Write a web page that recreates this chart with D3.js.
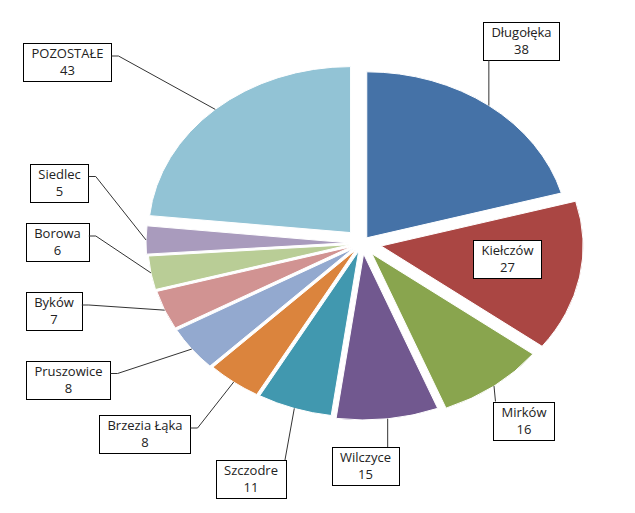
<!DOCTYPE html>
<html><head><meta charset="utf-8">
<script src="https://cdn.jsdelivr.net/npm/d3@7"></script>
<style>body{margin:0;background:#fff} svg{display:block}</style>
</head><body>
<svg id="c" width="635" height="513"></svg>
<script>
// ---- data ----
const categories = ["Długołęka","Kiełczów","Mirków","Wilczyce","Szczodre","Brzezia Łąka","Pruszowice","Byków","Borowa","Siedlec","POZOSTAŁE"];
const values = [38,27,16,15,11,8,8,7,6,5,43];

// ---- style / layout ----
const colors = ["#4572A7","#AA4643","#89A54E","#71588F","#4198AF","#DB843D","#93A9CF","#D19392","#B9CD96","#A99BBD","#92C3D5"];
const explode = [6.5,16,13.5,11,8.5,8.5,9.5,9.5,10,11.5,14];
const labelCenters = [[521.5,41],[507.5,258.5],[524,420.5],[365.5,466],[251,479],[145,434],[68.5,379.5],[54,311],[57.5,242],[59.5,182.5],[67.5,62]];
const hasLeader = [true,false,true,true,true,true,true,true,true,true,true];
const CX = 362, CY = 243, R = 166, K = 1.217;

const svg = d3.select("#c");
const pie = d3.pie().sort(null).value(d => d)(values);
const arc = d3.arc().innerRadius(0).outerRadius(R);

const g = svg.append("g").attr("transform", `translate(${CX},${CY}) scale(${K},1)`);
g.selectAll("path").data(pie).join("path")
  .attr("d", arc)
  .attr("fill", (d,i) => colors[i])
  .attr("stroke", "#fff").attr("stroke-width", 1)
  .attr("vector-effect", "non-scaling-stroke")
  .attr("transform", (d,i) => {
    const m = (d.startAngle + d.endAngle) / 2;
    return `translate(${explode[i]*Math.sin(m)},${-explode[i]*Math.cos(m)})`;
  });

const lg = svg.append("g");
const lines = svg.append("g");
pie.forEach((d,i) => {
  const m = (d.startAngle + d.endAngle) / 2;
  const rr = R + explode[i];
  const tx = CX + K*rr*Math.sin(m), ty = CY - rr*Math.cos(m);
  const [cx, cy] = labelCenters[i];
  const grp = lg.append("g");
  const rect = grp.append("rect");
  const t = grp.append("text").attr("text-anchor","middle")
    .style("font-family","'Open Sans', sans-serif").style("font-size","13px").attr("fill","#222");
  t.append("tspan").attr("x", cx).attr("y", cy - 3.7).text(categories[i]);
  t.append("tspan").attr("x", cx).attr("y", cy + 13).text(values[i]);
  const w = Math.max(...t.selectAll("tspan").nodes().map(n => n.getComputedTextLength())) + 16;
  const h = 38;
  const x0 = cx - w/2, x1 = cx + w/2, y0 = cy - h/2, y1 = cy + h/2;
  rect.attr("x", Math.round(x0)+0.5).attr("y", Math.round(y0)+0.5)
      .attr("width", Math.round(w)).attr("height", h)
      .attr("fill","#fff").attr("stroke","#000").attr("stroke-width",1);
  if (!hasLeader[i]) return;
  let pts;
  if (tx >= x0 - 2 && tx <= x1 + 12 && (ty < y0 || ty > y1)) {
    const ax = Math.max(x0 + 2, Math.min(x1 - 1, tx));
    pts = [[ax, ty < y0 ? y0 : y1], [tx, ty]];
  } else if (tx > x1) {
    const ay = y0 + 13;
    pts = [[x1, ay], [x1 + 7, ay], [tx, ty]];
  } else {
    const ay = y0 + 13;
    pts = [[x0, ay], [x0 - 7, ay], [tx, ty]];
  }
  lines.append("path").attr("d", d3.line()(pts))
    .attr("fill","none").attr("stroke","#333").attr("stroke-width",1);
});
</script>
</body></html>
